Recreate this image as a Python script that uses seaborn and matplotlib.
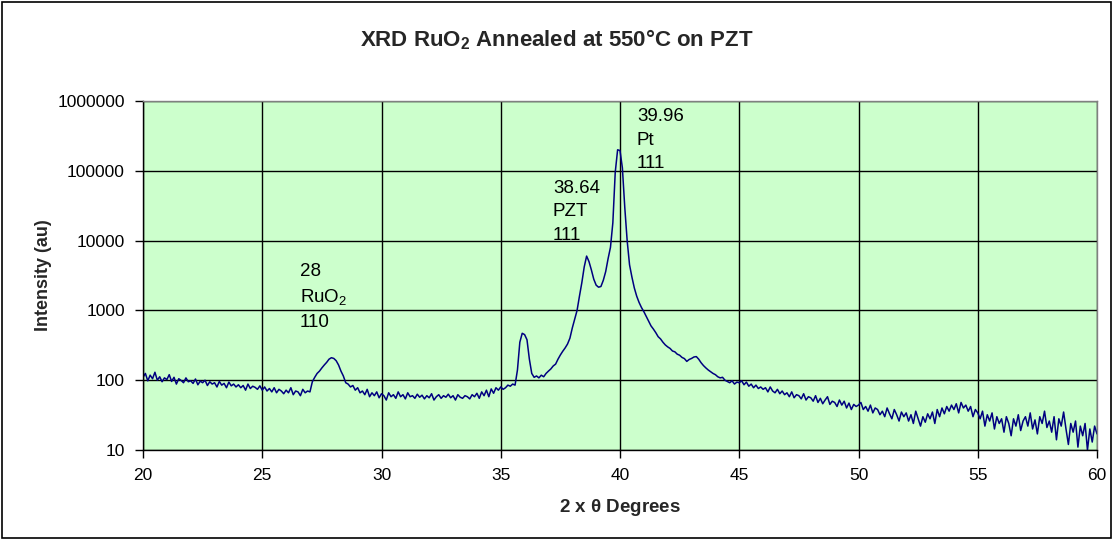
import numpy as np
import pandas as pd
import matplotlib
matplotlib.use("Agg")
import matplotlib.pyplot as plt
import seaborn as sns
from matplotlib.patches import Rectangle
from matplotlib.transforms import Bbox

# ---- data ----
# scan positions: 20.0 .. 60.0 deg, step 0.1
two_theta = np.round(np.arange(200, 601) / 10.0, 1)

I_20_25 = [110, 125, 98, 118, 105, 130, 100, 112, 95, 108,
           102, 120, 96, 110, 88, 105, 99, 92, 108, 95,
           98, 90, 104, 86, 97, 92, 100, 84, 95, 88,
           92, 80, 96, 85, 90, 78, 94, 83, 88, 80,
           86, 78, 84, 72, 88, 76, 82, 79, 74, 83]
I_25_30 = [72, 80, 70, 76, 68, 78, 66, 74, 70, 64,
           72, 66, 78, 62, 70, 68, 60, 74, 66, 70,
           68, 95, 110, 125, 135, 150, 165, 180, 200, 210,
           205, 190, 165, 135, 115, 92, 88, 80, 84, 72,
           78, 66, 70, 62, 74, 58, 66, 60, 68, 56]
I_30_35 = [64, 60, 52, 66, 58, 62, 55, 68, 58, 62,
           54, 66, 58, 60, 55, 63, 57, 61, 54, 60,
           56, 64, 52, 58, 62, 55, 60, 57, 63, 56,
           60, 52, 62, 57, 55, 60, 58, 54, 62, 58,
           65, 55, 68, 60, 72, 58, 75, 65, 78, 72]
I_35_40 = [80, 74, 78, 85, 82, 88, 85, 140, 350, 470,
           450, 380, 200, 125, 110, 115, 108, 118, 112, 125,
           135, 145, 160, 170, 200, 230, 260, 290, 330, 400,
           560, 750, 1000, 1600, 2500, 4200, 6000, 5000, 3800, 2800,
           2300, 2150, 2200, 2700, 3600, 5500, 8000, 18000, 95000, 200000]
I_40_45 = [195000, 110000, 30000, 10000, 4500, 3000, 2100, 1600, 1300, 1100,
           960, 820, 700, 600, 540, 480, 420, 390, 350, 320,
           300, 285, 262, 255, 236, 228, 212, 204, 186, 198,
           205, 215, 218, 200, 178, 162, 150, 140, 132, 125,
           120, 112, 108, 110, 100, 96, 92, 98, 88, 94]
I_45_50 = [92, 98, 86, 94, 82, 88, 78, 85, 76, 80,
           74, 78, 68, 80, 70, 66, 74, 64, 70, 62,
           66, 58, 68, 56, 62, 60, 54, 64, 52, 58,
           56, 50, 60, 48, 55, 46, 52, 58, 45, 50,
           48, 42, 52, 44, 50, 40, 47, 38, 45, 42]
I_50_55 = [44, 48, 38, 42, 36, 44, 34, 40, 38, 32,
           36, 30, 40, 33, 28, 38, 32, 26, 35, 30,
           34, 26, 32, 24, 36, 28, 22, 30, 25, 33,
           28, 35, 24, 38, 30, 40, 33, 42, 36, 44,
           38, 46, 34, 48, 40, 44, 36, 42, 30, 38]
I_55_60 = [34, 28, 36, 22, 32, 26, 34, 20, 30, 24,
           28, 18, 30, 24, 16, 28, 22, 32, 19, 26,
           30, 22, 34, 20, 27, 17, 30, 24, 36, 21,
           26, 18, 30, 14, 28, 22, 35, 20, 12, 24,
           18, 26, 11, 22, 16, 24, 10, 20, 13, 22,
           17]

intensity = (I_20_25 + I_25_30 + I_30_35 + I_35_40 +
             I_40_45 + I_45_50 + I_50_55 + I_55_60)

x_ticks = [20, 25, 30, 35, 40, 45, 50, 55, 60]
y_ticks = [10, 100, 1000, 10000, 100000, 1000000]
y_tick_labels = ["10", "100", "1000", "10000", "100000", "1000000"]

peak_labels = ["28\nRuO$_2$\n110", "38.64\nPZT\n111", "39.96\nPt\n111"]
peak_label_pos = [(26.58, 4800), (37.19, 74000), (40.71, 790000)]
# bottom edge (pixels from top) where each label box is cut off
peak_label_cut = [332, 240, 170]

df = pd.DataFrame({"two_theta": two_theta, "intensity": intensity})

# ---- style ----
sns.set_theme(style="white")
plt.rcParams["font.family"] = ["Liberation Sans", "DejaVu Sans"]
plt.rcParams["mathtext.fontset"] = "custom"
plt.rcParams["mathtext.rm"] = "Liberation Sans"
plt.rcParams["mathtext.bf"] = "Liberation Sans:bold"

W, H = 1114, 540
fig = plt.figure(figsize=(W / 100, H / 100), dpi=100)
fig.patch.set_facecolor("white")
ax = fig.add_axes([143 / W, 90 / H, 954 / W, 349 / H])
ax.set_facecolor("#CCFFCC")

sns.lineplot(data=df, x="two_theta", y="intensity", ax=ax, color="#000080",
             linewidth=1.1, estimator=None, sort=False)

ax.set_yscale("log")
ax.set_xlim(20, 60)
ax.set_ylim(10, 1000000)
ax.set_xticks(x_ticks)
ax.set_xticklabels([str(v) for v in x_ticks], fontsize=12.5)
ax.set_yticks(y_ticks)
ax.set_yticklabels(y_tick_labels, fontsize=12.5)
ax.minorticks_off()
ax.yaxis.set_minor_locator(matplotlib.ticker.NullLocator())
ax.tick_params(axis="both", direction="out", length=6, width=1, color="black",
               labelcolor="black", pad=7, bottom=True, left=True)
ax.grid(True, color="black", linewidth=1.0)
ax.set_axisbelow(True)
for side in ["left", "bottom"]:
    ax.spines[side].set_color("black")
    ax.spines[side].set_linewidth(1.0)
for side in ["top", "right"]:
    ax.spines[side].set_color("#808080")
    ax.spines[side].set_linewidth(1.0)

ax.set_xlabel(r"2 x $\mathbf{\theta}$ Degrees", fontsize=13.5, fontweight="bold", labelpad=10)
ax.set_ylabel("Intensity (au)", fontsize=13, fontweight="bold", labelpad=4)

for txt, (px, py), cut in zip(peak_labels, peak_label_pos, peak_label_cut):
    t = ax.text(px, py, txt, fontsize=13.5, ha="left", va="top", linespacing=1.5,
                color="black")
    t.set_clip_box(Bbox.from_extents(0, H - cut, W, H))
    t.set_clip_on(True)

fig.text(0.5, 0.926, r"XRD RuO$_\mathbf{2}$ Annealed at 550°C on PZT",
         fontsize=16, fontweight="bold", ha="center", va="center")

fig.patches.append(Rectangle((0.002, 0.003), 0.995, 0.993, transform=fig.transFigure,
                             fill=False, edgecolor="black", linewidth=1.2))

fig.savefig("out.png", dpi=100)
